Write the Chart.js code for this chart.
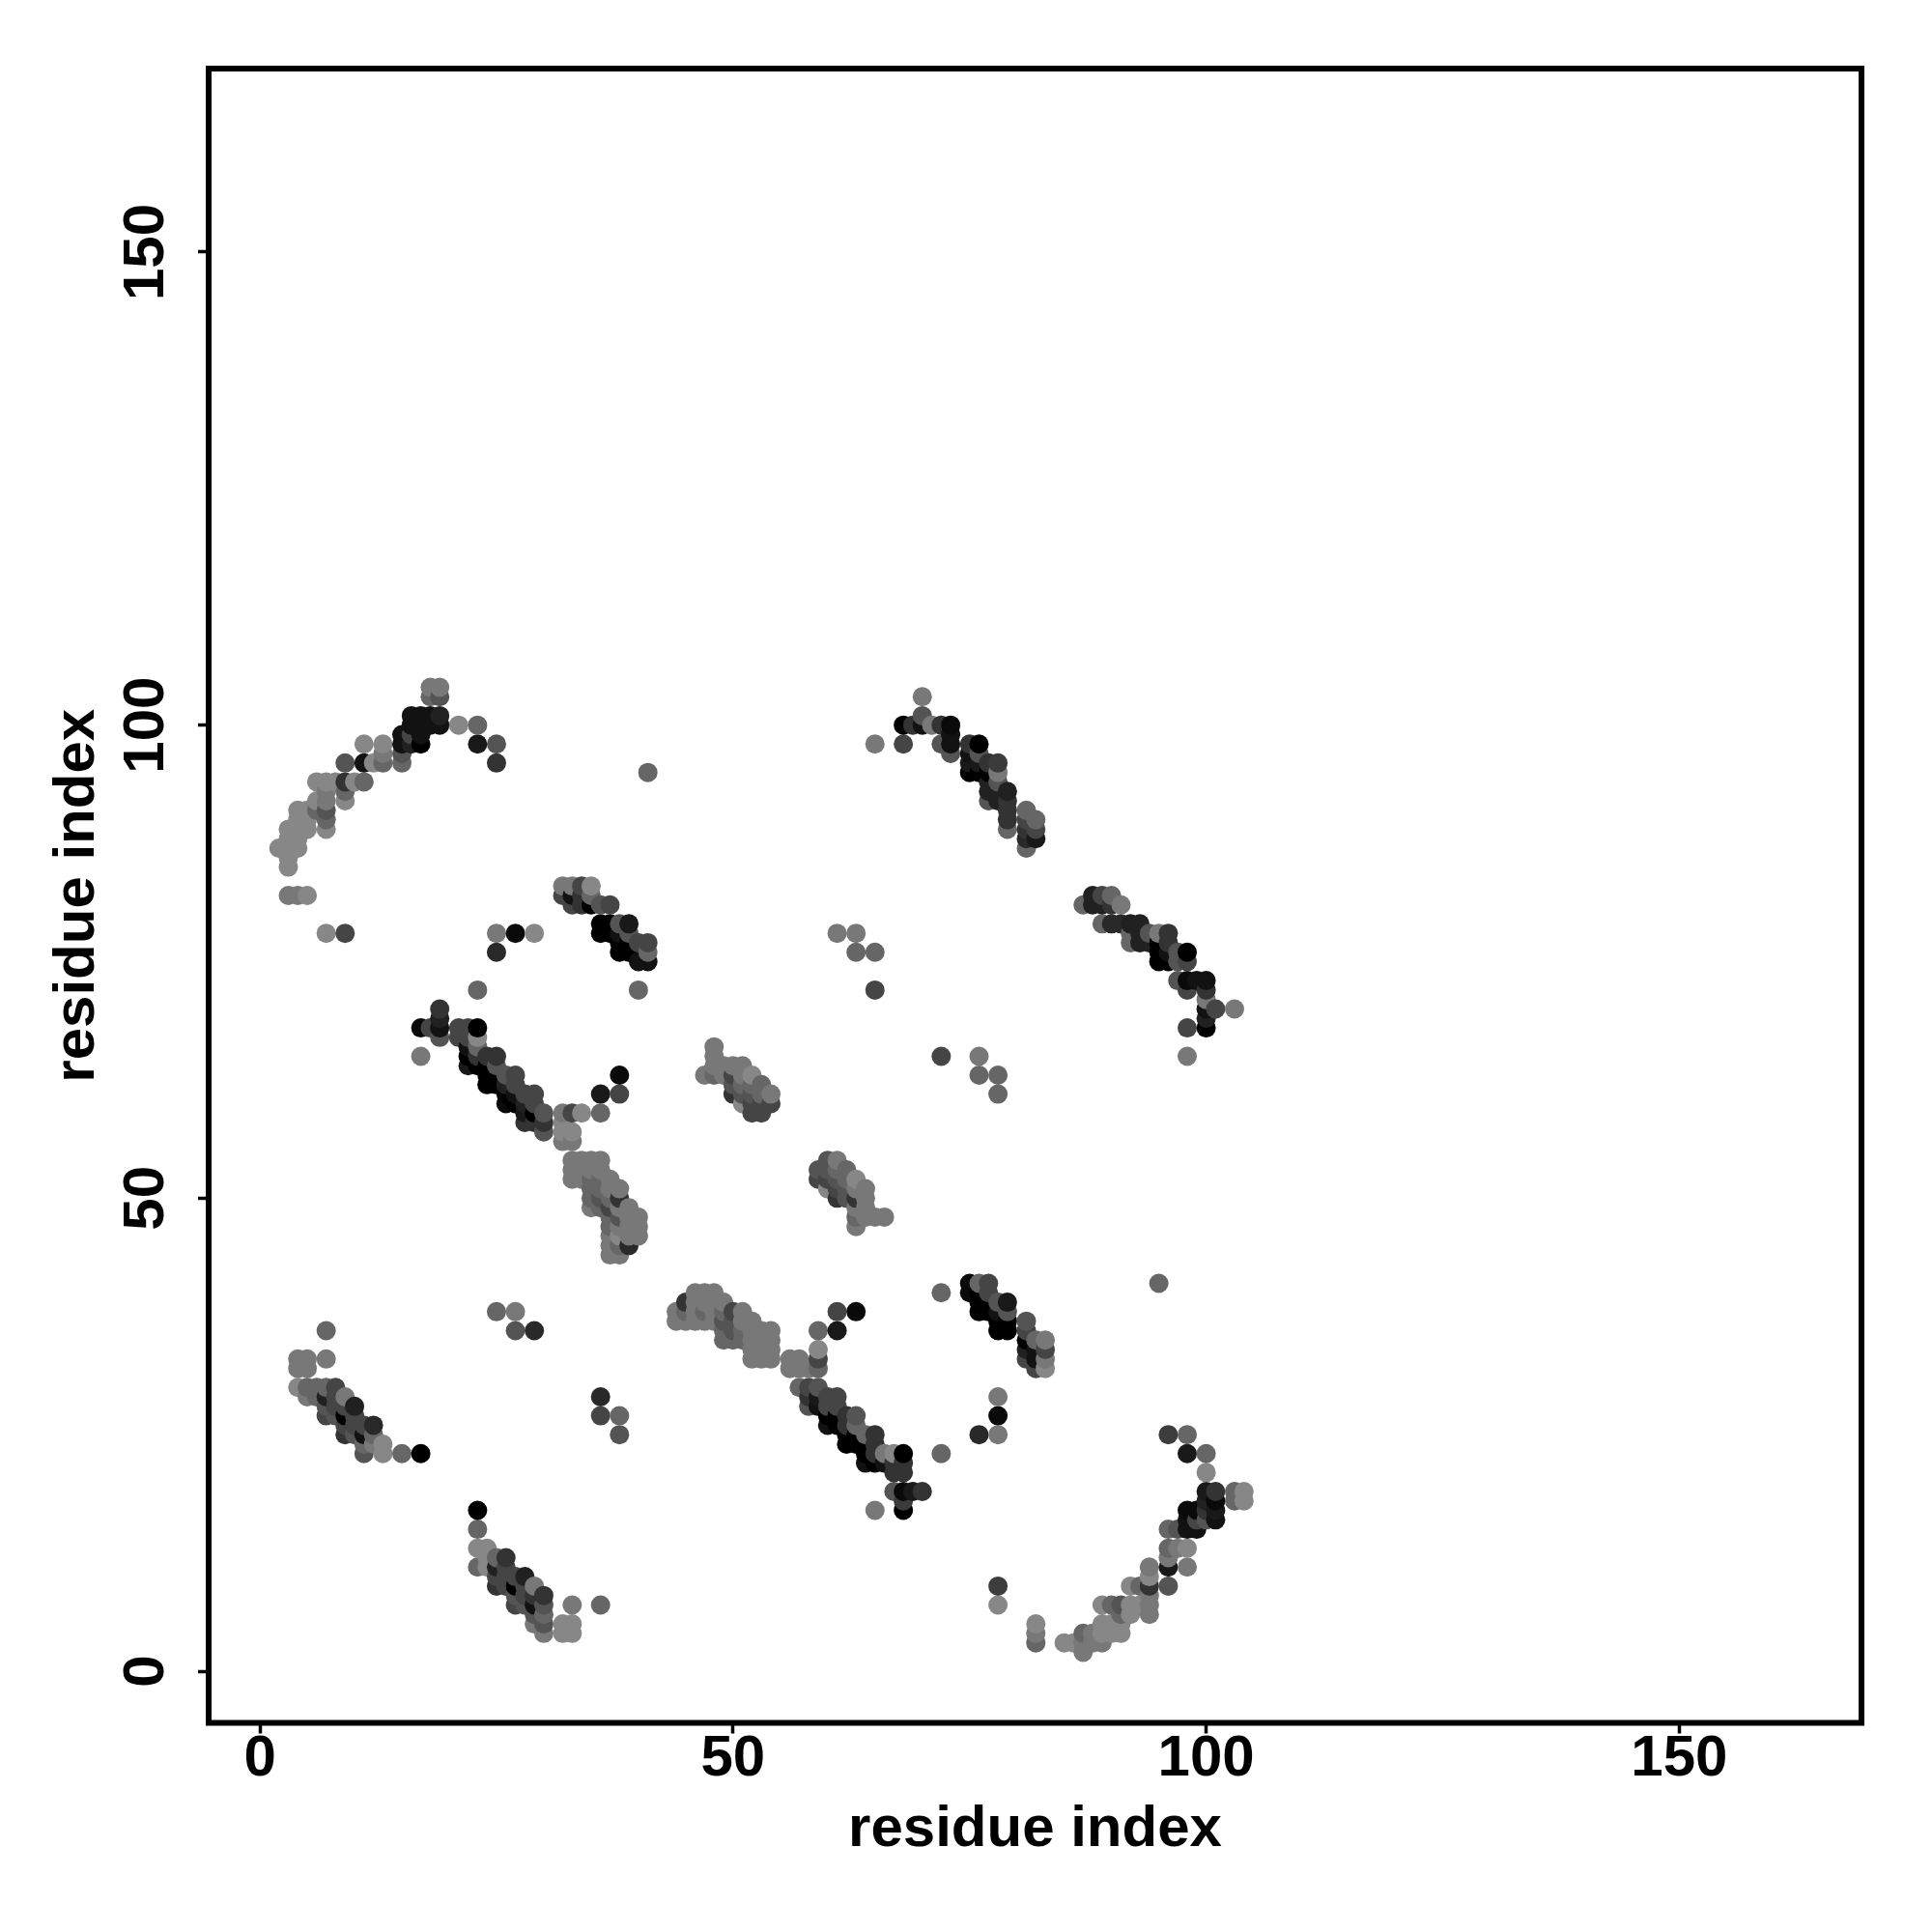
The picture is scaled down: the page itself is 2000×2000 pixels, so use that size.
<!DOCTYPE html>
<html>
<head>
<meta charset="utf-8">
<title>residue contact map</title>
<script src="https://cdn.jsdelivr.net/npm/chart.js@4"></script>
<style>
  html, body { margin: 0; padding: 0; background: #fff; }
  canvas { display: block; }
</style>
</head>
<body>
<canvas id="contact-map" width="2000" height="2000"></canvas>
<script>
// Contacts: [residue x, residue y, contact strength 0-1]
const tickValues = [0, 50, 100, 150];
const axisTitle = 'residue index';

const arcUpperLeft = [
  [18,104,.53],[19,104,.53],[18,103,.60],[19,103,.67],
  [16,101,.93],[17,101,.93],[18,101,.93],[19,101,.87],
  [16,100,.93],[17,100,.93],[18,100,.93],[19,100,.93],[21,100,.47],[23,100,.60],
  [15,99,.93],[16,99,.73],[17,99,.93],
  [15,98,.93],[16,98,.87],[17,98,1],[11,98,.47],[13,98,.47],[23,98,.90],[25,98,.67],
  [13,97,.53],[15,97,.67],
  [9,96,.67],[11,96,.93],[12,96,.47],[13,96,.60],[15,96,.60],[25,96,.80],
  [41,95,.60],
  [6,94,.47],[7,94,.47],[8,94,.47],[9,94,.80],[10,94,.47],[11,94,.60],
  [7,93,.53],[9,93,.60],
  [6,92,.47],[7,92,.53],[9,92,.47],
  [4,91,.47],[5,91,.47],[6,91,.60],[7,91,.67],
  [4,90,.47],[5,90,.47],[7,90,.60],
  [3,89,.47],[4,89,.47],[5,89,.47],[7,89,.47],
  [3,88,.47],[4,88,.47],[2,87,.47],[3,87,.47],[4,87,.47],
  [3,86,.47],[3,85,.47],[3,82,.53],[4,82,.53],[5,82,.47]
];
const arcLowerRight = [
  [85,3,.47],[86,3,.47],[87,2,.53],[87,3,.53],[87,4,.60],[88,3,.53],[88,4,.53],
  [89,3,.53],[89,4,.47],[89,5,.47],[89,7,.47],[90,4,.47],[90,5,.47],[90,7,.60],
  [91,4,.47],[91,5,.47],[91,6,.60],[91,7,.67],[92,6,.47],[92,7,.47],[92,9,.47],
  [93,7,.47],[93,9,.60],[94,6,.53],[94,7,.53],[94,8,.53],[94,9,.80],[94,10,.47],[94,11,.53],
  [95,41,.60],[96,9,.67],[96,11,.90],[96,12,.53],[96,13,.60],[96,15,.60],[96,25,.76],
  [97,13,.53],[97,15,.67],[98,11,.53],[98,13,.47],[98,15,.93],[98,16,.93],[98,17,.96],
  [98,23,.90],[98,25,.60],[99,15,.93],[99,16,.73],[99,17,.96],
  [100,16,.67],[100,17,.80],[100,18,.87],[100,19,.90],[100,21,.47],[100,23,.60],
  [101,16,.93],[101,17,.90],[101,18,.96],[101,19,.80],
  [103,18,.60],[103,19,.60],[104,18,.47],[104,19,.47],
  [82,5,.47],[82,4,.53],[82,3,.60]
];
const strandUpper = [
  [32,83,.53],[33,83,.53],[34,83,.73],[35,83,.47],
  [32,82,.73],[33,82,.93],[34,82,.80],[35,82,.60],
  [33,81,.73],[34,81,.80],[35,81,1],[36,81,.67],[37,81,.73],
  [36,79,1],[37,79,1],[38,79,.67],[39,79,.90],
  [36,78,1],[37,78,1],[38,78,.93],[39,78,.67],
  [38,77,1],[39,77,1],[40,77,.73],[41,77,.73],
  [38,76,1],[39,76,1],[41,76,.60],[40,75,.93],[41,75,.93]
];
const strandRight = [
  [75,40,.96],[75,41,.96],[76,38,1],[76,39,1],[76,40,1],[76,41,.60],
  [77,38,1],[77,39,1],[77,40,.73],[77,41,.73],
  [78,36,1],[78,37,1],[78,38,.93],[78,39,.67],[79,36,1],[79,37,1],[79,38,.67],[79,39,.90],
  [81,33,.73],[81,34,.87],[81,35,1],[81,36,.73],[81,37,.67],
  [82,32,.73],[82,33,.93],[82,34,.93],[82,35,.60],
  [83,32,.47],[83,33,.53],[83,34,.73],[83,35,.53]
];
const diagonalLeft = [
  [19,70,.80],[19,69,.87],[17,68,.96],[18,68,.73],[19,68,.93],[21,68,.73],[22,68,.73],[23,68,1],
  [19,67,.67],[21,67,.73],[22,67,.73],[23,67,.47],[22,66,.93],[23,66,.60],
  [17,65,.53],[22,65,1],[23,65,.80],[24,65,.80],[25,65,.80],
  [22,64,.90],[23,64,1],[24,64,1],[25,64,.67],
  [24,63,1],[25,63,1],[26,63,.67],[27,63,.73],[38,63,.96],
  [24,62,1],[25,62,1],[26,62,.87],[27,62,.73],
  [26,61,1],[27,61,.93],[28,61,.73],[29,61,.73],[36,61,.90],[38,61,.73],
  [26,60,.96],[27,60,1],[28,60,.87],[29,60,.73],
  [28,59,.90],[29,59,1],[30,59,.67],[32,59,.53],[33,59,.73],[34,59,.47],[36,59,.60],
  [28,58,.80],[29,58,.80],[30,58,.80],[32,58,.47],
  [30,57,.67],[32,57,.47],[33,57,.47],[32,56,.53],[33,56,.53]
];
const diagonalRight = [
  [56,32,.53],[56,33,.53],[57,32,.53],[57,33,.53],[58,32,.53],[59,32,.60],[59,33,.73],[59,34,.47],[59,36,.60],
  [57,30,.60],[58,30,.73],[59,30,.67],[58,29,.80],[59,29,.90],[60,29,.73],[61,29,.73],
  [58,28,.67],[59,28,.93],[60,28,.73],[61,28,.73],
  [60,27,1],[61,27,1],[62,27,.80],[63,27,.67],[60,26,.93],[61,26,1],[62,26,.80],[63,26,.60],
  [62,25,1],[63,25,1],[64,25,.60],[65,25,.80],[62,24,1],[63,24,1],[64,24,1],[65,24,.80],
  [64,23,1],[65,23,.80],[66,23,.53],[67,23,.47],[68,23,1],
  [64,22,.93],[65,22,1],[66,22,.93],[67,22,.80],[68,22,.80],[67,21,.80],[68,21,.80],
  [67,19,.67],[68,19,.96],[69,19,.90],[70,19,.80],[68,18,.77],[65,17,.53],[68,17,1],
  [61,36,.90],[61,38,.73],[63,38,.96]
];
const bulgeLeft = [
  [33,52,.53],[33,53,.53],[33,54,.53],[34,52,.53],[34,53,.53],[34,54,.53],
  [35,49,.53],[35,50,.60],[35,51,.60],[35,52,.60],[35,53,.53],[35,54,.53],
  [36,49,.60],[36,50,.67],[36,51,.60],[36,52,.60],[36,53,.53],[36,54,.53],
  [37,44,.53],[37,45,.53],[37,46,.53],[37,47,.60],[37,48,.60],[37,49,.73],[37,50,.60],[37,51,.53],[37,52,.53],
  [38,44,.53],[38,45,.60],[38,46,.47],[38,47,.53],[38,48,.67],[38,49,.53],[38,50,.80],[38,51,.53],
  [39,45,.84],[39,46,.53],[39,47,.53],[39,48,.53],[39,49,.53],
  [40,46,.53],[40,47,.53],[40,48,.53]
];
const bulgeBottom = [
  [44,37,.53],[44,38,.53],[45,37,.53],[45,38,.60],[45,39,.80],
  [46,37,.53],[46,38,.53],[46,39,.53],[46,40,.53],[47,37,.53],[47,38,.60],[47,39,.53],[47,40,.53],
  [48,37,.53],[48,38,.53],[48,39,.53],[48,40,.53],
  [49,35,.60],[49,36,.60],[49,37,.67],[49,38,.60],[49,39,.53],
  [50,35,.60],[50,36,.67],[50,37,.67],[50,38,.73],
  [51,35,.60],[51,36,.60],[51,37,.53],[51,38,.53],
  [52,33,.53],[52,34,.53],[52,35,.53],[52,36,.53],[52,37,.53],
  [53,33,.53],[53,34,.53],[53,35,.53],[53,36,.53],[54,33,.53],[54,34,.53],[54,35,.53],[54,36,.53]
];
const patchUpper = [
  [47,63,.53],[48,63,.60],[48,64,.53],[48,65,.53],[48,66,.53],[49,63,.53],[49,64,.53],
  [50,61,.80],[50,62,.67],[50,63,.73],[50,64,.53],[51,60,.47],[51,61,.67],[51,62,.60],[51,63,.53],[51,64,.53],
  [52,59,.73],[52,60,.73],[52,61,.67],[52,62,.60],[52,63,.47],
  [53,59,.73],[53,60,.73],[53,61,.60],[53,62,.60],[54,60,.73],[54,61,.53]
];
const patchLower = [
  [59,52,.73],[59,53,.67],[60,51,.47],[60,52,.73],[60,53,.67],[60,54,.67],
  [61,50,.80],[61,51,.73],[61,52,.67],[61,53,.60],[61,54,.53],
  [62,50,.67],[62,51,.67],[62,52,.60],[62,53,.60],
  [63,47,.53],[63,48,.60],[63,49,.53],[63,50,.80],[63,51,.53],[63,52,.47],
  [64,48,.53],[64,49,.53],[64,50,.53],[64,51,.53],[65,48,.53],[66,48,.53]
];
const strandTopRight = [
  [65,98,.53],[68,98,.73],[68,100,1],[69,100,.80],[70,100,.93],[70,101,.67],[70,103,.53],[71,100,.53],
  [72,98,.67],[72,100,.80],[73,97,.67],[73,98,.93],[73,99,.93],[73,100,.96],
  [75,95,1],[75,96,.90],[75,97,.93],[75,98,.80],[76,95,1],[76,96,.90],[76,97,.67],[76,98,1],
  [77,92,.67],[77,93,.87],[77,94,.87],[77,95,1],[77,96,.80],
  [78,92,.87],[78,93,.87],[78,94,.67],[78,95,.53],[78,96,.77],
  [79,89,.60],[79,90,.80],[79,91,.80],[79,92,.80],[79,93,.87],
  [81,87,.60],[81,88,.84],[81,89,.80],[81,90,.73],[81,91,.60],[82,88,.90],[82,89,.73],[82,90,.60]
];
const strandFarRight = [
  [87,81,.60],[88,81,.87],[88,82,.87],[89,79,.60],[89,81,.87],[89,82,.73],
  [90,79,.84],[90,81,.80],[90,82,.60],[91,79,.84],[91,81,.53],
  [92,77,.60],[92,78,.60],[92,79,.87],[93,77,.87],[93,78,.87],[93,79,.87],[94,77,.87],[94,78,.67],
  [95,75,1],[95,76,1],[95,77,1],[95,78,.53],[96,75,1],[96,76,.93],[96,77,.80],[96,78,.80],
  [97,73,.67],[97,75,.67],[97,76,.67],[98,65,.53],[98,68,.73],[98,72,.73],[98,73,.96],[98,75,.73],[98,76,1],
  [99,73,.93],[100,68,1],[100,69,.87],[100,70,.93],[100,71,.53],[100,72,.80],[100,73,.93],
  [101,70,.73],[103,70,.53]
];
const strandLowLeft = [
  [7,36,.60],[4,33,.53],[5,33,.53],[7,33,.53],[4,32,.53],[5,32,.53],
  [4,30,.47],[5,30,.60],[6,30,.60],[7,30,.60],[8,30,.73],
  [5,29,.53],[6,29,.60],[7,29,.87],[8,29,.73],[9,29,.53],
  [7,28,.67],[8,28,.73],[9,28,.73],[10,28,.87],[7,27,.73],[8,27,.67],[9,27,1],[10,27,.73],
  [9,26,.73],[10,26,.73],[11,26,.73],[12,26,.84],[9,25,.80],[10,25,.67],[11,25,.93],[12,25,.60],
  [11,24,.60],[12,24,.53],[13,24,.47],[11,23,.67],[13,23,.47],[15,23,.60],[17,23,1]
];
const strandLowMiddle = [
  [23,17,1],[23,15,.60],[23,13,.47],[24,13,.47],[24,12,.47],[25,12,.60],[26,12,.80],
  [23,11,.60],[24,11,.47],[25,11,.87],[26,11,.73],[25,10,.73],[26,10,.73],[27,10,.73],[28,10,.87],
  [25,9,.80],[26,9,.73],[27,9,1],[28,9,.73],[29,9,.53],[27,8,.67],[28,8,.73],[29,8,.80],[30,8,.80],
  [27,7,.73],[28,7,.67],[29,7,.93],[30,7,.67],[33,7,.53],[36,7,.60],[29,6,.67],[30,6,.60],
  [29,5,.53],[30,5,.67],[32,5,.47],[33,5,.47],[30,4,.53],[32,4,.47],[33,4,.47]
];
const isolatedContacts = [
  [7,78,.47],[9,78,.73],[25,78,.53],[27,78,.96],[29,78,.47],[25,76,.84],[23,72,.60],[40,72,.60],
  [78,7,.47],[78,9,.76],[78,25,.53],[78,27,.96],[78,29,.53],[76,25,.84],[72,23,.60],[72,40,.60],
  [61,78,.53],[63,78,.53],[63,76,.60],[65,76,.60],[65,72,.73],
  [72,65,.73],[76,65,.53],[76,63,.60],[78,63,.60],[78,61,.60],
  [25,38,.60],[27,38,.53],[27,36,.67],[29,36,.84],[36,29,.84],[36,27,.73],[38,27,.60],[38,25,.67]
];

const allContacts = [
  ...arcUpperLeft, ...arcLowerRight, ...strandUpper, ...strandRight, ...diagonalLeft, ...diagonalRight,
  ...bulgeLeft, ...bulgeBottom, ...patchUpper, ...patchLower, ...strandTopRight, ...strandFarRight,
  ...strandLowLeft, ...strandLowMiddle, ...isolatedContacts
].sort((a, b) => a[0] - b[0] || a[1] - b[1]); // later points sit on top

function strengthToGray(s) {
    const g = Math.round(255 * (1 - s));
    return `rgb(${g},${g},${g})`;
}

// Heavy frame round the plot area
const frame = {
    id: 'frame',
    afterDatasetsDraw(chart) {
        const { ctx, chartArea: a } = chart;
        ctx.save();
        ctx.strokeStyle = '#000';
        ctx.lineWidth = 6;
        ctx.strokeRect(a.left, a.top, a.right - a.left, a.bottom - a.top);
        ctx.restore();
    }
};

const tickFont = { family: '"Liberation Sans"', size: 60, weight: 'bold' };
const titleFont = { family: '"Liberation Sans"', size: 60, weight: 'bold' };
const axisGrid = { drawOnChartArea: false, drawTicks: true, tickLength: 11, tickWidth: 3.5, color: '#000' };

new Chart(document.getElementById('contact-map'), {
    type: 'scatter',
    data: {
        datasets: [{
            data: allContacts.map(c => ({ x: c[0], y: c[1] })),
            pointBackgroundColor: allContacts.map(c => strengthToGray(c[2])),
            pointBorderWidth: 0,
            pointRadius: 10
        }]
    },
    options: {
        responsive: false,
        animation: false,
        layout: { padding: { top: 71, right: 73, left: 0, bottom: 0 } },
        plugins: { legend: { display: false }, tooltip: { enabled: false } },
        scales: {
            x: {
                min: -5.42,
                max: 169.26,
                border: { display: false },
                grid: axisGrid,
                afterBuildTicks: axis => { axis.ticks = tickValues.map(v => ({ value: v })); },
                afterFit: axis => { axis.height = 216.5; },
                ticks: { font: tickFont, color: '#000', padding: -9, maxRotation: 0, minRotation: 0 },
                title: { display: true, text: axisTitle, font: titleFont, color: '#000', padding: { top: 0, bottom: 70 } }
            },
            y: {
                min: -5.46,
                max: 169.4,
                border: { display: false },
                grid: axisGrid,
                afterBuildTicks: axis => { axis.ticks = tickValues.map(v => ({ value: v })); },
                afterFit: axis => { axis.width = 216; },
                ticks: { font: tickFont, color: '#000', padding: 2, minRotation: 90, maxRotation: 90, crossAlign: 'center' },
                title: { display: true, text: axisTitle, font: titleFont, color: '#000', padding: { top: 44, bottom: 0 } }
            }
        }
    },
    plugins: [frame]
});
</script>
</body>
</html>
